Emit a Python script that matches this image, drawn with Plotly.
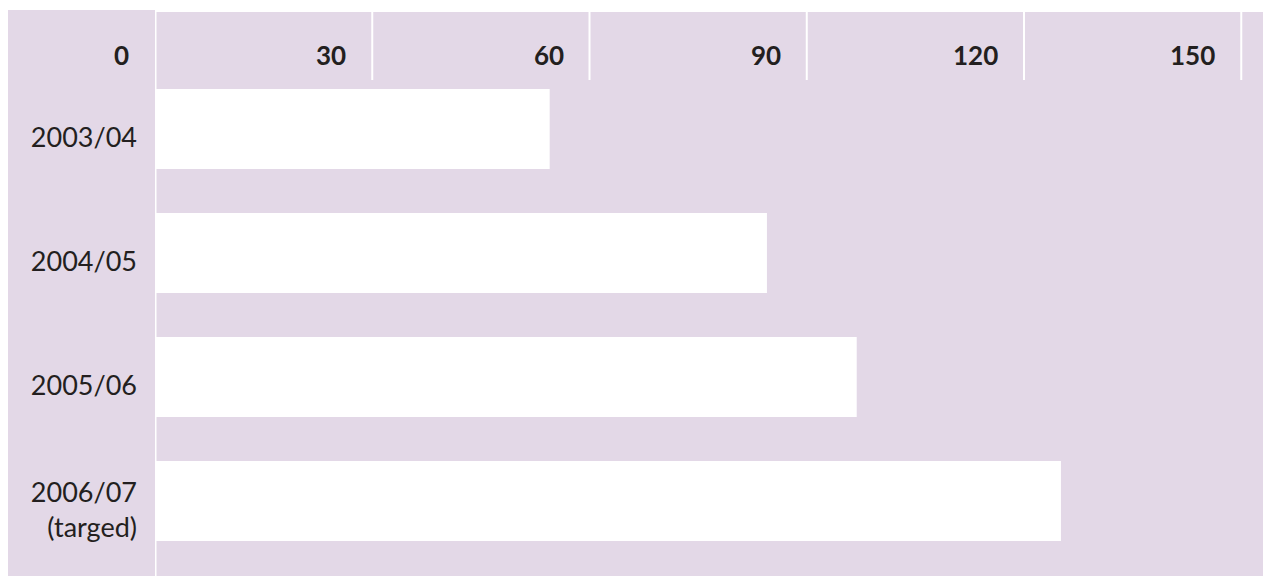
import plotly.graph_objects as go

# Data
categories = ["2003/04", "2004/05", "2005/06", "2006/07<br>(targed)"]
values = [54.5, 84.5, 96.9, 125.1]
tick_values = [0, 30, 60, 90, 120, 150]
tick_labels = ["0", "30", "60", "90", "120", "150"]

PURPLE = "#E3D8E7"
TEXT = "#231F20"
FONT = "Lato, Liberation Sans, Arial, sans-serif"

W, H = 1263, 576
ML, MR, MT, MB = 155, 0, 12, 0
plot_h = H - MT - MB
plot_w = W - ML - MR


def py(pixel_y):
    """figure pixel y (from top) -> paper y"""
    return (H - MB - pixel_y) / plot_h


def px(pixel_x):
    return (pixel_x - ML) / plot_w


fig = go.Figure()
fig.add_trace(go.Bar(
    x=values,
    y=categories,
    orientation="h",
    marker=dict(color="white", line=dict(width=0)),
    width=0.645,
    hoverinfo="x+y",
    showlegend=False,
))

shapes = []
# white margin strips (left and top)
shapes.append(dict(type="rect", xref="paper", yref="paper",
                   x0=px(-2), x1=px(8), y0=-0.01, y1=py(-2),
                   fillcolor="white", line=dict(width=0), layer="above"))
shapes.append(dict(type="rect", xref="paper", yref="paper",
                   x0=px(-2), x1=1.01, y0=py(10), y1=py(-2),
                   fillcolor="white", line=dict(width=0), layer="above"))
shapes.append(dict(type="rect", xref="paper", yref="paper",
                   x0=0, x1=1.01, y0=1.0, y1=py(10),
                   fillcolor="white", line=dict(width=0), layer="above"))
# header gridlines
for v in tick_values[1:]:
    shapes.append(dict(type="line", xref="x", yref="paper",
                       x0=v, x1=v, y0=py(80), y1=1,
                       line=dict(color="white", width=2), layer="above"))
# zero separator line (full height)
shapes.append(dict(type="line", xref="x", yref="paper",
                   x0=0, x1=0, y0=0, y1=py(10),
                   line=dict(color="white", width=3), layer="above"))

annotations = []
for v, t in zip(tick_values, tick_labels):
    annotations.append(dict(
        x=v, xref="x", y=py(55), yref="paper",
        text=t, showarrow=False, xanchor="right", yanchor="middle",
        xshift=-24,
        font=dict(family=FONT, size=26, color=TEXT, weight="bold"),
    ))

fig.update_layout(
    width=W, height=H,
    margin=dict(l=ML, r=MR, t=MT, b=MB, pad=0),
    paper_bgcolor=PURPLE,
    plot_bgcolor=PURPLE,
    bargap=0.355,
    shapes=shapes,
    annotations=annotations,
    xaxis=dict(range=[0, 153], showgrid=False, zeroline=False,
               showticklabels=False, ticks="", fixedrange=True),
    yaxis=dict(
        range=[3.605, -0.944], showgrid=False, zeroline=False,
        tickmode="array", tickvals=categories, ticktext=categories,
        ticks="", ticklabelstandoff=17, ticklabelshift=-9,
        tickfont=dict(family=FONT, size=27, color=TEXT),
        fixedrange=True,
    ),
)

page_fix = (
    "document.body.style.margin='0';"
    "document.body.style.overflow='hidden';"
    "document.documentElement.style.overflow='hidden';"
)

fig.write_html("out.html", post_script=page_fix,
               config={"displayModeBar": False, "staticPlot": False})
